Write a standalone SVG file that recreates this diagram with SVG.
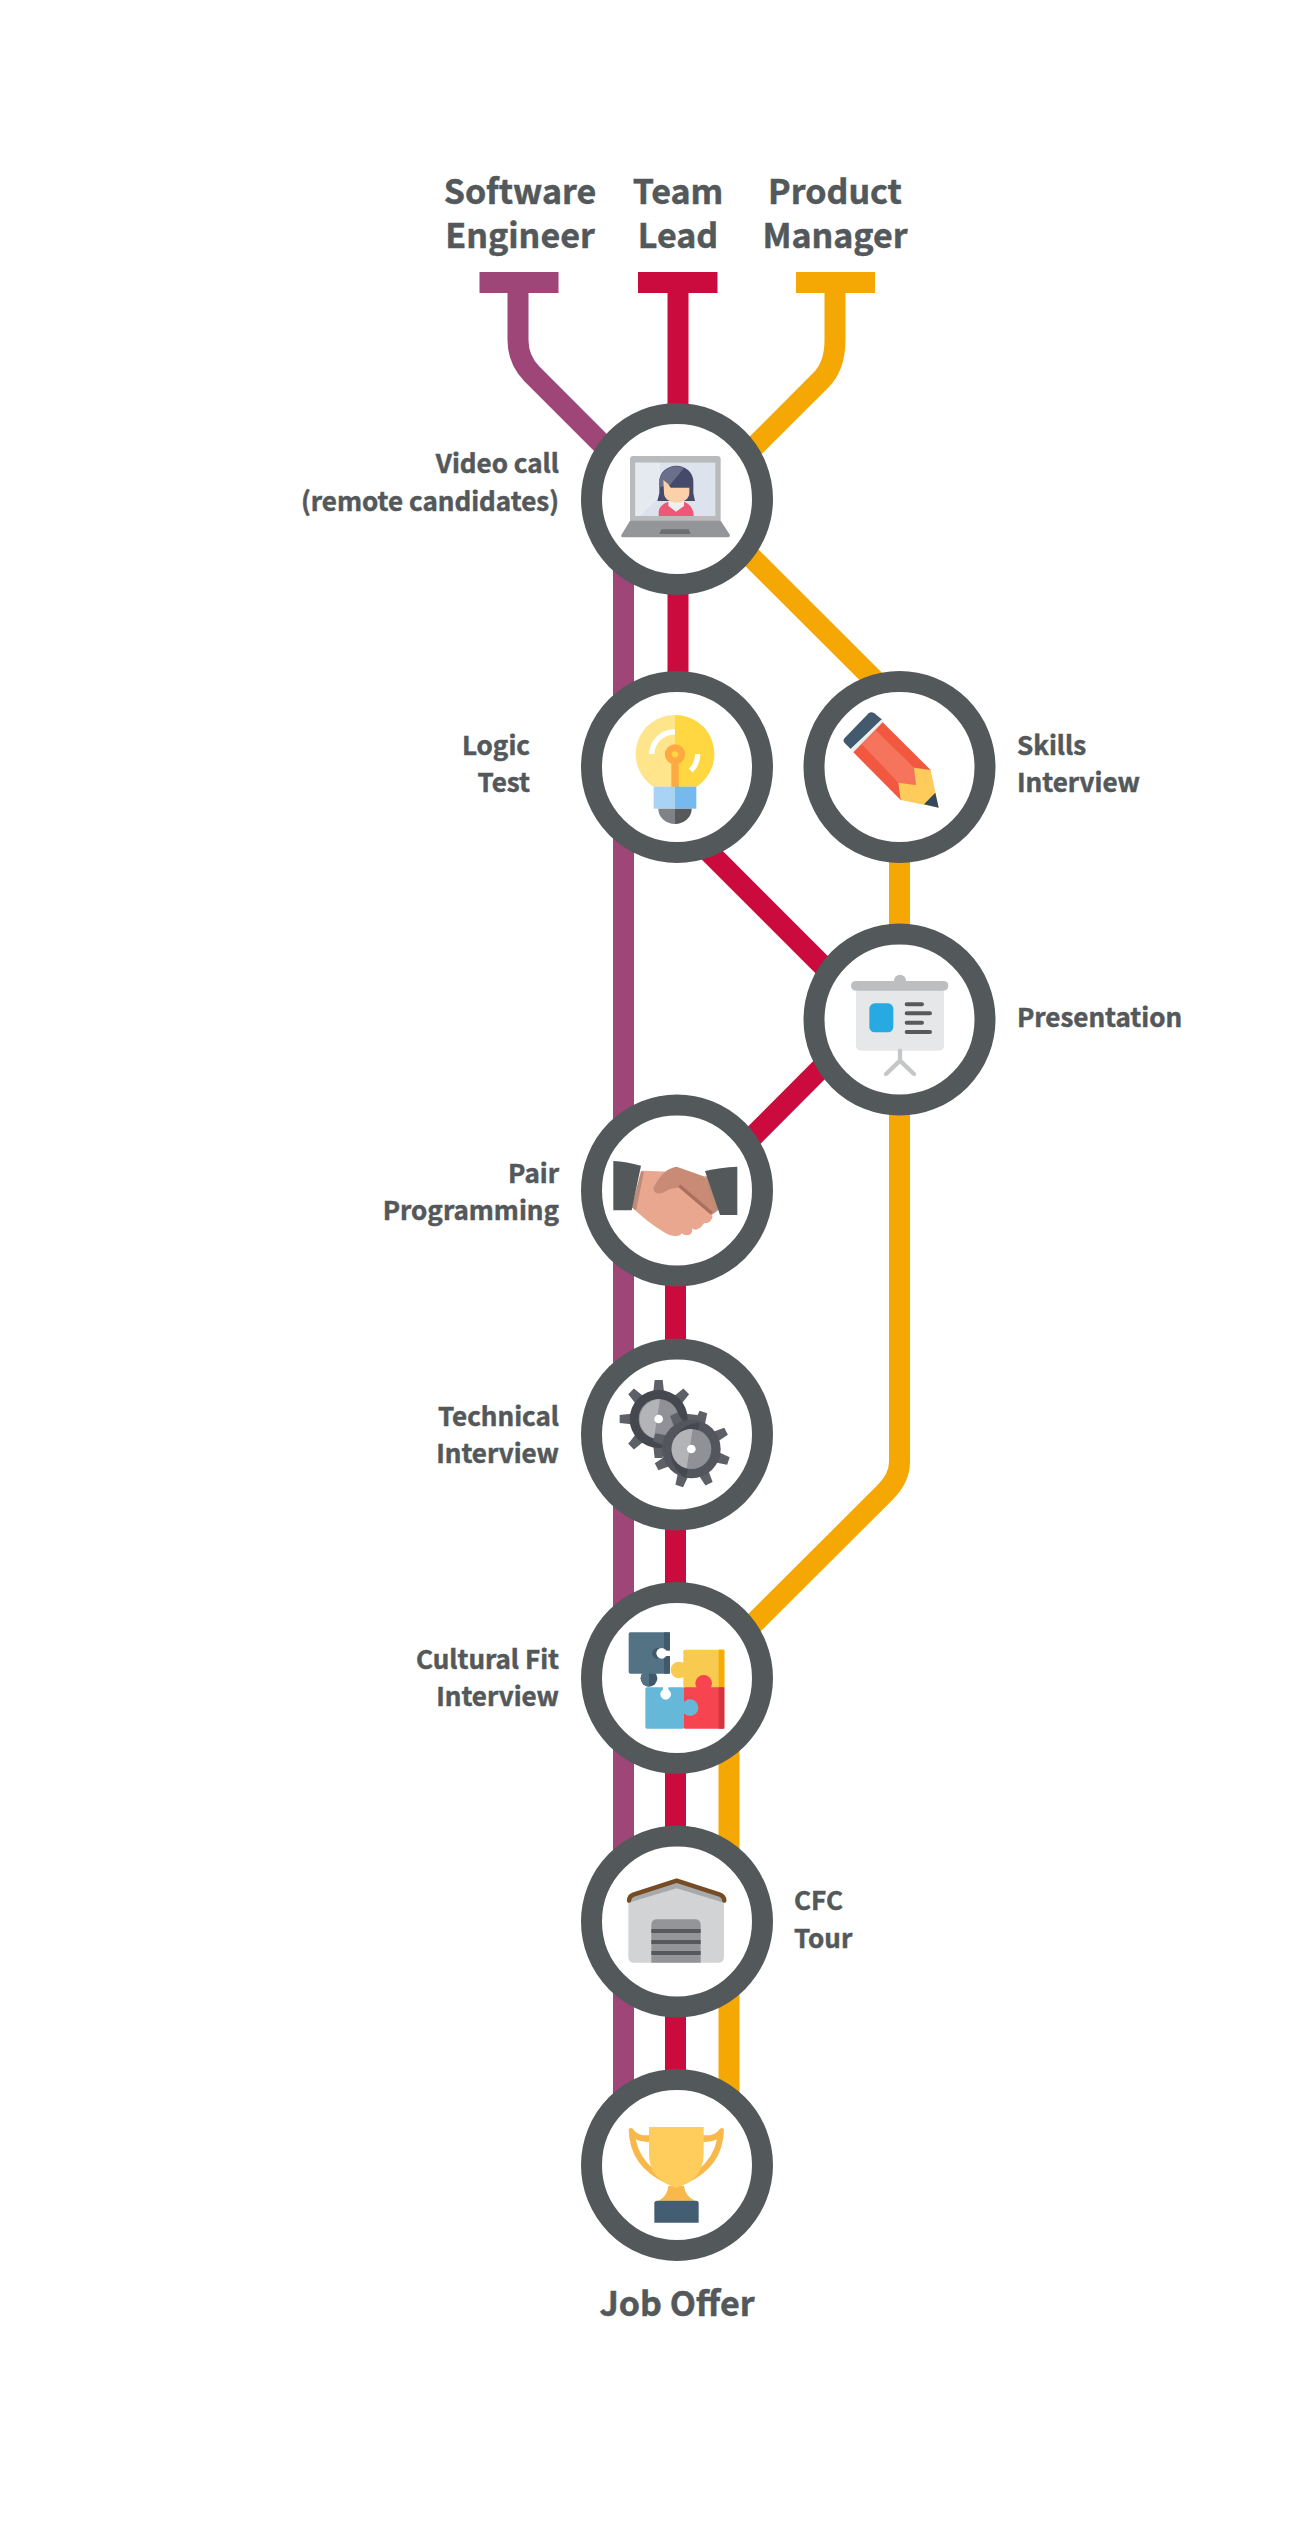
<svg xmlns="http://www.w3.org/2000/svg" width="1312" height="2540" viewBox="0 0 1312 2540">
<style>
text{font-family:"Noto Sans CJK SC","Source Sans Pro","Noto Sans",sans-serif;font-weight:700;fill:#53585a;stroke:#53585a;stroke-width:.5}
.h{font-size:34px;text-anchor:middle}
.l{font-size:26px}
.r{text-anchor:end}
.ring{fill:#fff;stroke:#53585a;stroke-width:21}
.c{fill:none;stroke-width:21}
.p{stroke:#9e4677}.t{stroke:#cb0a3d}.o{stroke:#f5a804}
</style>
<defs>
<polygon id="tooth" points="-16,-82 -12,-117 12,-117 16,-82"/>
<g id="teeth"><use href="#tooth"/><use href="#tooth" transform="rotate(45)"/><use href="#tooth" transform="rotate(90)"/><use href="#tooth" transform="rotate(135)"/><use href="#tooth" transform="rotate(180)"/><use href="#tooth" transform="rotate(225)"/><use href="#tooth" transform="rotate(270)"/><use href="#tooth" transform="rotate(315)"/></g>
<path id="handle" d="M146 118Q155 108 163 122Q180 140 210 135V156Q182 156 167 148Q178 205 225 240L262 282Q148 232 146 118Z" fill="#f9b84a"/>
</defs>
<rect width="1312" height="2540" fill="#fff"/>
<g id="connectors">
<rect x="479.500" y="272" width="79" height="21" fill="#9e4677"/>
<rect x="638" y="272" width="79.500" height="21" fill="#cb0a3d"/>
<rect x="796" y="272" width="79" height="21" fill="#f5a804"/>
<path class="c p" d="M518 290V340Q518 360 532 374L623.500 465.500V2165"/>
<path class="c t" d="M678 290V767L680 823L873 1016L677.500 1212"/>
<path class="c t" d="M675.500 1190V2165"/>
<path class="c o" d="M835 290V340Q835 366 821 380L720 481"/>
<path class="c o" d="M730 536L899.500 705V1462Q899.500 1478 885 1492.500L700 1677"/>
<path class="c o" d="M729 1678V2165"/>
</g>
<g id="head-software"><text class="h" x="520" y="204">Software</text><text class="h" x="520" y="248">Engineer</text></g>
<g id="head-team"><text class="h" x="678" y="204">Team</text><text class="h" x="678" y="248">Lead</text></g>
<g id="head-product"><text class="h" x="835" y="204">Product</text><text class="h" x="835" y="248">Manager</text></g>

<g id="node-video">
<circle class="ring" cx="677" cy="499" r="85.500"/>
<g transform="translate(580 400) scale(.33333)">
<rect x="150" y="168" width="272" height="200" rx="10" fill="#b9babb"/>
<rect x="166" y="188" width="240" height="160" fill="#dde3ec"/>
<polygon points="166,188 240,188 240,290 180,348 166,348" fill="#e5e9f0"/>
<path d="M232 303L238 280V245A51 48 0 0 1 340 245V280L345 303Z" fill="#454a6a"/>
<path d="M238 262V245A51 48 0 0 1 312 204L270 255Z" fill="#6a6f8a"/>
<path d="M236 348V335Q238 315 265 305H312Q340 315 341 348Z" fill="#ef5777"/>
<path d="M265 303H312V318L288 335L265 318Z" fill="#f0efef"/>
<path d="M250 240Q265 250 272 263H328V280A38 28 0 0 1 252 280Z" fill="#fcd0a8"/>
<path d="M150 362H422L450 405Q450 412 442 412H130Q122 412 124 405Z" fill="#939598"/>
<polygon points="244,388 326,388 332,402 238,402" fill="#6d6e71"/>
</g>
<text class="l r" x="559" y="473">Video call</text><text class="l r" x="559" y="511">(remote candidates)</text>
</g>

<g id="node-logic">
<circle class="ring" cx="677" cy="767" r="85.500"/>
<g transform="translate(580 670) scale(.33333)">
<path d="M285 135A117 117 0 0 0 220 350H285Z" fill="#fee58b"/>
<path d="M285 135A117 117 0 0 1 350 350H285Z" fill="#ffd740"/>
<path d="M215 252A68 68 0 0 1 285 186M353 252A68 68 0 0 1 332 302" fill="none" stroke="#fff" stroke-width="16"/>
<rect x="274" y="275" width="22" height="76" fill="#ffa942"/>
<circle cx="285" cy="253" r="20" fill="#ffd740" stroke="#ffa942" stroke-width="21"/>
<rect x="221" y="350" width="64" height="66" fill="#a9d3f5"/>
<rect x="285" y="350" width="64" height="66" fill="#76b9ee"/>
<path d="M235 416A50 46 0 0 0 285 462V416Z" fill="#808285"/>
<path d="M335 416A50 46 0 0 1 285 462V416Z" fill="#58595b"/>
</g>
<text class="l r" x="530" y="755">Logic</text><text class="l r" x="530" y="792">Test</text>
</g>

<g id="node-skills">
<circle class="ring" cx="899.500" cy="767" r="85.500"/>
<g transform="translate(810 670) scale(.33333)">
<path d="M122 237L217 149L193 130Q184 124 176 130L104 204Q97 212 104 219Z" fill="#42596e"/>
<polygon points="122,237 215,148 222,157 130,247" fill="#ebeeef"/>
<polygon points="130,247 218,157 362,300 318,345 272,390" fill="#f2573f"/>
<polygon points="155,222 197,180 315,296 318,345 265,338" fill="#f6735c"/>
<polygon points="272,390 265,338 318,345 312,293 362,300 386,413" fill="#ffcc5c"/>
<polygon points="342,403 376,368 386,413" fill="#33495c"/>
</g>
<text class="l" x="1017" y="755">Skills</text><text class="l" x="1017" y="792">Interview</text>
</g>

<g id="node-presentation">
<circle class="ring" cx="899.500" cy="1019.500" r="85.500"/>
<g transform="translate(810 930) scale(.33333)">
<circle cx="270" cy="152" r="18" fill="#bcbec0"/>
<rect x="138" y="175" width="264" height="187" rx="14" fill="#e6e7e8"/>
<rect x="123" y="153" width="292" height="29" rx="14" fill="#bcbec0"/>
<rect x="178" y="220" width="72" height="87" rx="16" fill="#27aae1"/>
<path d="M290 223H336M290 250H360M290 278H336M290 306H360" stroke="#58595b" stroke-width="12" stroke-linecap="round" fill="none"/>
<path d="M270 362V392M270 392L228 432M270 392L312 432" stroke="#c4c6c8" stroke-width="13" stroke-linecap="round" fill="none"/>
</g>
<text class="l" x="1017" y="1027">Presentation</text>
</g>

<g id="node-pair">
<circle class="ring" cx="677" cy="1190.500" r="85.500"/>
<g transform="translate(580 1110) scale(.33333)">
<path d="M188 182L270 185L300 225L380 290L398 320Q392 340 372 340Q366 352 352 358Q342 362 335 355Q340 364 332 372Q318 380 305 370Q300 380 285 378Q270 378 250 365Q200 335 155 290Z" fill="#e9a78f"/>
<polygon points="183,183 192,185 168,302 155,292" fill="#bf8a78"/>
<path d="M222 230Q250 175 290 170L375 200L415 300L395 315L298 232Q270 235 255 245Q225 260 220 235Z" fill="#c98a76"/>
<path d="M298 227L395 310" stroke="#a9705c" stroke-width="10" fill="none"/>
<polygon points="375,198 385,200 415,296 405,305" fill="#bf8a78"/>
<path d="M100 153Q140 155 183 167L155 301H100Z" fill="#53585a"/>
<path d="M375 183Q420 172 472 170V315H420Z" fill="#53585a"/>
</g>
<text class="l r" x="559" y="1183">Pair</text><text class="l r" x="559" y="1220">Programming</text>
</g>

<g id="node-technical">
<circle class="ring" cx="677" cy="1434.500" r="85.500"/>
<g transform="translate(580 1350) scale(.33333)">
<use href="#teeth" x="236" y="207" fill="#5d6066"/>
<circle cx="236" cy="207" r="87" fill="#46484f"/>
<circle cx="236" cy="207" r="60" fill="#8f9196"/>
<path d="M240 147.500A60 60 0 0 0 222 265Z" fill="#b2b4b8"/>
<circle cx="236" cy="207" r="13" fill="#fff"/>
<g transform="translate(334 297) rotate(18)"><use href="#teeth" fill="#5d6066"/></g>
<circle cx="334" cy="297" r="88" fill="#54565d"/>
<path d="M360 218A88 88 0 0 0 317 383Z" fill="#46484f"/>
<circle cx="334" cy="297" r="60" fill="#8f9196"/>
<path d="M338 237A60 60 0 0 0 320 355Z" fill="#b2b4b8"/>
<circle cx="334" cy="297" r="13" fill="#fff"/>
</g>
<text class="l r" x="559" y="1426">Technical</text><text class="l r" x="559" y="1463">Interview</text>
</g>

<g id="node-cultural">
<circle class="ring" cx="677" cy="1678" r="85.500"/>
<g transform="translate(580 1600) scale(.33333)">
<circle cx="207" cy="235" r="25" fill="#42596c"/>
<path d="M207 210A25 25 0 0 0 207 260Z" fill="#537384"/>
<rect x="146" y="97" width="124" height="124" rx="5" fill="#537384"/>
<rect x="252" y="97" width="18" height="124" fill="#42596c"/>
<circle cx="232" cy="160" r="16" fill="#42596c"/>
<circle cx="245" cy="160" r="16" fill="#fff"/>
<rect x="252" y="152" width="20" height="16" fill="#fff"/>
<rect x="310" y="149" width="123" height="118" rx="5" fill="#f8ca4f"/>
<rect x="416" y="149" width="17" height="118" fill="#f8ab02"/>
<circle cx="297" cy="210" r="25" fill="#f8ca4f"/>
<circle cx="371" cy="250" r="25" fill="#f6454f"/>
<rect x="310" y="262" width="123" height="124" rx="5" fill="#f6454f"/>
<rect x="416" y="262" width="17" height="124" fill="#d13640"/>
<rect x="196" y="262" width="116" height="124" rx="5" fill="#66b8d8"/>
<circle cx="330" cy="323" r="25" fill="#66b8d8"/>
<circle cx="257" cy="283" r="16" fill="#fff"/>
<rect x="249" y="258" width="16" height="18" fill="#fff"/>
</g>
<text class="l r" x="559" y="1669">Cultural Fit</text><text class="l r" x="559" y="1706">Interview</text>
</g>

<g id="node-cfc">
<circle class="ring" cx="677" cy="1921.500" r="85.500"/>
<g transform="translate(580 1850) scale(.33333)">
<path d="M145 150L290 100L432 150V320Q432 338 414 338H163Q145 338 145 320Z" fill="#d1d3d4"/>
<path d="M145 158L290 115L432 158V140L290 92L145 140Z" fill="#a7a9ac"/>
<path d="M147 152Q148 138 160 134L290 92L420 134Q432 138 433 152" fill="none" stroke="#754c24" stroke-width="13" stroke-linecap="round" stroke-linejoin="round"/>
<path d="M214 338V225Q214 208 232 208H344Q362 208 362 225V338Z" fill="#939598"/>
<path d="M214 243H362M214 276H362M214 309H362" stroke="#58595b" stroke-width="12" fill="none"/>
</g>
<text class="l" x="794" y="1910">CFC</text><text class="l" x="794" y="1948">Tour</text>
</g>

<g id="node-offer">
<circle class="ring" cx="677" cy="2165" r="85.500"/>
<g transform="translate(580 2090) scale(.33333)">
<use href="#handle"/>
<use href="#handle" transform="translate(578 0) scale(-1 1)"/>
<path d="M265 288Q262 320 235 332H345Q316 320 312 288Z" fill="#f9b84a"/>
<path d="M207 111H371V190Q371 270 289 293Q207 270 207 190Z" fill="#ffcd5c"/>
<path d="M223 340Q223 332 231 332H348Q356 332 356 340V398H223Z" fill="#435d72"/>
</g>
<text class="h" x="677" y="2316">Job Offer</text>
</g>
</svg>
